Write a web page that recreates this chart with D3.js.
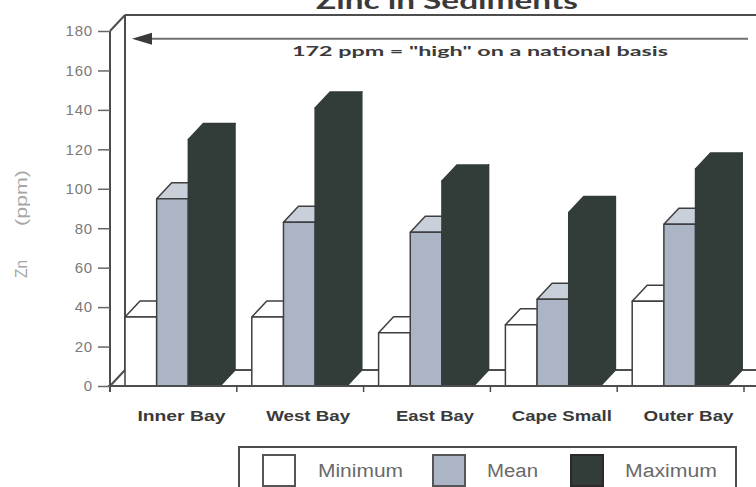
<!DOCTYPE html>
<html>
<head>
<meta charset="utf-8">
<script src="https://cdn.jsdelivr.net/npm/d3@7"></script>
<style>
  html, body { margin: 0; padding: 0; background: #ffffff; }
  svg { display: block; }
</style>
</head>
<body>
<svg id="chart" width="756" height="487"></svg>
<script>
// Zinc concentrations in bay sediments (ppm)
const categories = ["Inner Bay", "West Bay", "East Bay", "Cape Small", "Outer Bay"];
const seriesNames = ["Minimum", "Mean", "Maximum"];
const minimum = [35, 35, 27, 31, 43];
const mean = [95, 83, 78, 44, 82];
const maximum = [125, 141, 104, 88, 110];
const yTicks = [0, 20, 40, 60, 80, 100, 120, 140, 160, 180];
const threshold = 172;
const thresholdLabel = '172 ppm = "high" on a national basis';
const titleText = "Zinc in Sediments";
const yTitleParts = ["Zn", "(ppm)"];

const seriesValues = [minimum, mean, maximum];

const svg = d3.select("#chart");
const W = 756, H = 487;

// 3-D depth offset of the bar prisms and chart walls
const DX = 15, DY = 16;

const y = d3.scaleLinear().domain([0, 180]).range([386, 31]);
const x = d3.scaleBand().domain(categories).range([110, 744]).paddingInner(0).paddingOuter(0);
const xs = d3.scaleBand().domain(seriesNames).range([15, 110]).padding(0);

const lineColor = "#4d4d4d";
const style = {
  Minimum: { front: "#ffffff", top: "#ffffff", side: "#ffffff", stroke: "#3f3f3f" },
  Mean:    { front: "#abb5c5", top: "#c9d0da", side: "#8f99a9", stroke: "#3f3f3f" },
  Maximum: { front: "#323d39", top: "#323d39", side: "#323d39", stroke: "#323d39" }
};

// Title (sits at the very top edge)
svg.append("text")
  .attr("x", 447).attr("y", 9)
  .attr("text-anchor", "middle")
  .attr("font-family", "Lato, 'DejaVu Sans', sans-serif")
  .attr("font-weight", "bold")
  .attr("font-size", 22)
  .attr("fill", "#3a3a3a")
  .attr("textLength", 262)
  .attr("lengthAdjust", "spacingAndGlyphs")
  .text(titleText);

// Back wall and floor frame
const frame = svg.append("g").attr("stroke", lineColor).attr("fill", "none").attr("stroke-width", 2);
const y0 = y(0), yTop = y(180);
const xL = x.range()[0];
// back wall
frame.append("line").attr("x1", xL + DX).attr("y1", yTop - DY).attr("x2", W + 5).attr("y2", yTop - DY);
frame.append("line").attr("x1", xL + DX).attr("y1", yTop - DY).attr("x2", xL + DX).attr("y2", y0 - DY);
frame.append("line").attr("x1", xL).attr("y1", yTop).attr("x2", xL + DX).attr("y2", yTop - DY);
// floor
frame.append("line").attr("x1", xL).attr("y1", y0).attr("x2", xL + DX).attr("y2", y0 - DY);
frame.append("line").attr("x1", xL + DX).attr("y1", y0 - DY).attr("x2", W + 5).attr("y2", y0 - DY);

// Threshold arrow line at mid depth
const yThr = y(threshold) - DY / 2;
svg.append("line")
  .attr("x1", 148).attr("y1", yThr).attr("x2", 748).attr("y2", yThr)
  .attr("stroke", "#707070").attr("stroke-width", 2);
svg.append("path")
  .attr("d", `M132,${yThr} L152,${yThr - 6} L152,${yThr + 6} Z`)
  .attr("fill", "#3a3a3a");
svg.append("text")
  .attr("x", 292).attr("y", yThr + 17)
  .attr("font-family", "Lato, 'DejaVu Sans', sans-serif")
  .attr("font-weight", "bold")
  .attr("font-size", 14)
  .attr("fill", "#3a3a3a")
  .attr("textLength", 376)
  .attr("lengthAdjust", "spacingAndGlyphs")
  .text(thresholdLabel);

// Bars: drawn left to right so each prism covers the side of the one before it
const bars = svg.append("g");
categories.forEach((cat, ci) => {
  seriesNames.forEach((s, si) => {
    const v = seriesValues[si][ci];
    const st = style[s];
    const x1 = x(cat) + xs(s);
    const x2 = x1 + xs.bandwidth();
    const yt = y(v);
    const g = bars.append("g")
      .attr("stroke", st.stroke).attr("stroke-width", 1.5).attr("stroke-linejoin", "round");
    g.append("polygon")
      .attr("points", [[x2, yt], [x2 + DX, yt - DY], [x2 + DX, y0 - DY], [x2, y0]].join(" "))
      .attr("fill", st.side);
    g.append("polygon")
      .attr("points", [[x1, yt], [x1 + DX, yt - DY], [x2 + DX, yt - DY], [x2, yt]].join(" "))
      .attr("fill", st.top);
    g.append("rect")
      .attr("x", x1).attr("y", yt).attr("width", x2 - x1).attr("height", y0 - yt)
      .attr("fill", st.front);
  });
});

// Front floor edge and category ticks
svg.append("line")
  .attr("x1", xL - 2).attr("y1", y0).attr("x2", W + 5).attr("y2", y0)
  .attr("stroke", lineColor).attr("stroke-width", 2);
svg.append("g").selectAll("line")
  .data(categories.map(c => x(c)).concat([x.range()[1]]))
  .join("line")
  .attr("x1", d => d).attr("x2", d => d)
  .attr("y1", y0).attr("y2", y0 + 6)
  .attr("stroke", lineColor).attr("stroke-width", 1.5);

// Y axis on the front edge
const yAxis = d3.axisLeft(y).tickValues(yTicks).tickSize(12).tickPadding(5);
const ya = svg.append("g").attr("transform", `translate(${xL},0)`).call(yAxis);
ya.select(".domain").attr("stroke", lineColor).attr("stroke-width", 2).attr("d", `M-0,${yTop}V${y0 + 6}`);
ya.selectAll(".tick line").attr("stroke", "#666").attr("stroke-width", 1.5);
ya.selectAll(".tick text")
  .attr("font-family", "'Liberation Sans', Arial, sans-serif")
  .attr("font-size", 15)
  .attr("letter-spacing", 0.8)
  .attr("fill", "#7a7a7a");

// Y axis title
[[yTitleParts[0], 278, 18], [yTitleParts[1], 226, 56]].forEach(([t, yy, len]) => {
  svg.append("text")
    .attr("transform", `translate(27,${yy}) rotate(-90)`)
    .attr("font-family", "'Liberation Sans', Arial, sans-serif")
    .attr("font-size", 16)
    .attr("fill", "#a6a6a6")
    .attr("textLength", len)
    .attr("lengthAdjust", "spacingAndGlyphs")
    .text(t);
});

// Category labels
const catLen = { "Inner Bay": 88, "West Bay": 84, "East Bay": 78, "Cape Small": 100, "Outer Bay": 90 };
svg.append("g").selectAll("text")
  .data(categories)
  .join("text")
  .attr("x", d => x(d) + x.bandwidth() / 2 + 8)
  .attr("y", 421)
  .attr("text-anchor", "middle")
  .attr("font-family", "'Liberation Sans', Arial, sans-serif")
  .attr("font-weight", "bold")
  .attr("font-size", 15)
  .attr("fill", "#3a3a3a")
  .attr("textLength", d => catLen[d])
  .attr("lengthAdjust", "spacingAndGlyphs")
  .text(d => d);

// Legend
const lg = svg.append("g");
lg.append("rect")
  .attr("x", 239).attr("y", 447).attr("width", 497).attr("height", 60)
  .attr("fill", "none").attr("stroke", lineColor).attr("stroke-width", 2);
const legendItems = [
  { s: "Minimum", sx: 263, tx: 318, len: 85 },
  { s: "Mean", sx: 433, tx: 487, len: 51 },
  { s: "Maximum", sx: 571, tx: 625, len: 92 }
];
legendItems.forEach(it => {
  lg.append("rect")
    .attr("x", it.sx).attr("y", 455).attr("width", 32).attr("height", 31)
    .attr("fill", style[it.s].front)
    .attr("stroke", it.s === "Maximum" ? "#2a2a2a" : "#555").attr("stroke-width", 2);
  lg.append("text")
    .attr("x", it.tx).attr("y", 477)
    .attr("font-family", "'Liberation Sans', Arial, sans-serif")
    .attr("font-size", 18)
    .attr("fill", "#6a6a6a")
    .attr("textLength", it.len)
    .attr("lengthAdjust", "spacingAndGlyphs")
    .text(it.s);
});
</script>
</body>
</html>
